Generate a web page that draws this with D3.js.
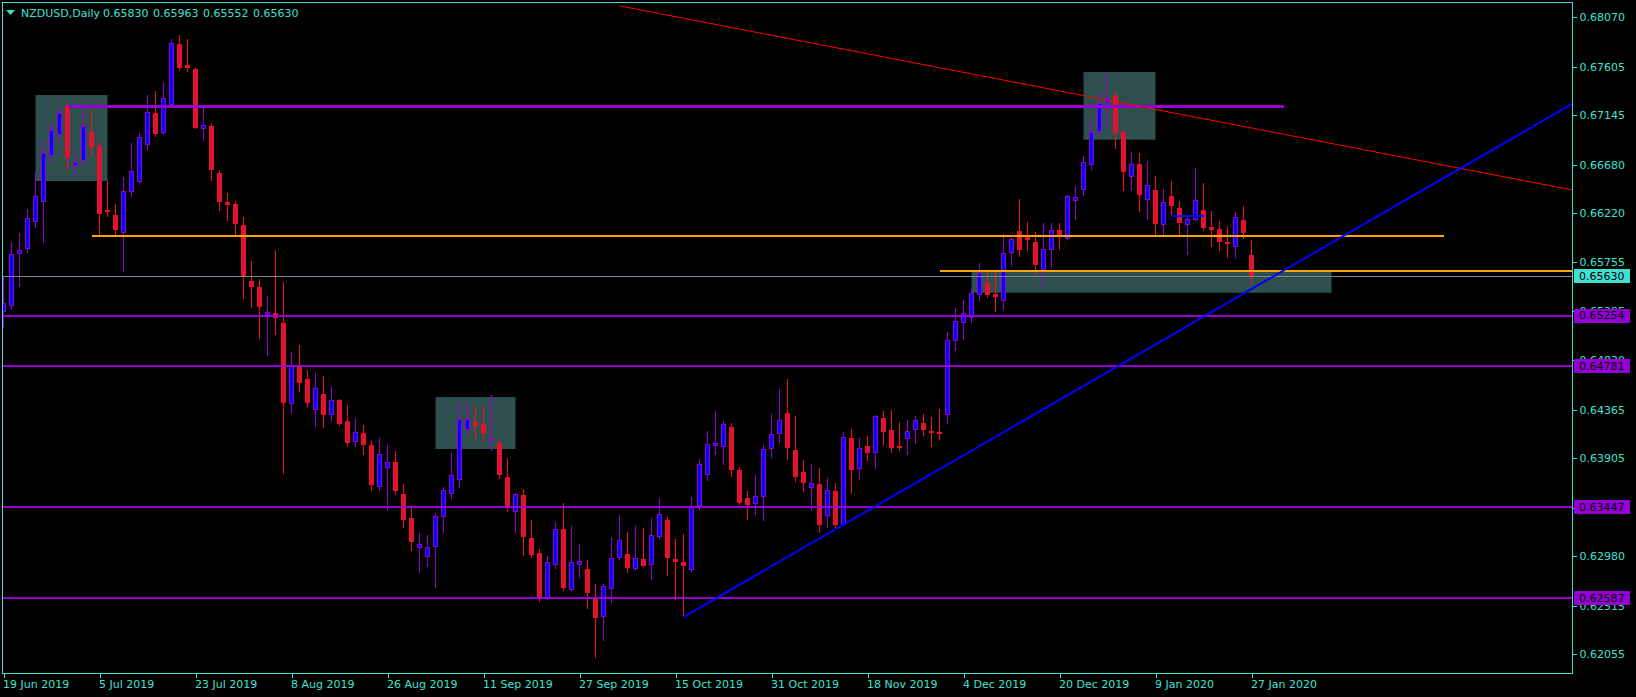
<!DOCTYPE html>
<html><head><meta charset="utf-8">
<script src="https://cdn.jsdelivr.net/npm/d3@7"></script>
<style>html,body{margin:0;padding:0;background:#000;overflow:hidden}</style>
</head><body><svg id="c" width="1636" height="697"></svg>
<script>
// ---------- data ----------
const symbol = "NZDUSD,Daily";
const lastOHLC = ["0.65830", "0.65963", "0.65552", "0.65630"];
const dateLabels = ["19 Jun 2019","5 Jul 2019","23 Jul 2019","8 Aug 2019","26 Aug 2019","11 Sep 2019","27 Sep 2019","15 Oct 2019","31 Oct 2019","18 Nov 2019","4 Dec 2019","20 Dec 2019","9 Jan 2020","27 Jan 2020"];
const dateIdx = [0,12,24,36,48,60,72,84,96,108,120,132,144,156];
const priceTicks = [0.68070,0.67605,0.67145,0.66680,0.66220,0.65755,0.65295,0.64830,0.64365,0.63905,0.63440,0.62980,0.62515,0.62055];

const open = [.65287,.65343,.65834,.65882,.66137,.66326,.66760,.66958,.67232,.66665,.66713,.66987,.66854,.66250,.66203,.66033,.66420,.66514,.66864,.67166,
.66977,.67241,.67817,.67619,.67581,.67015,.67043,.66599,.66326,.66307,.66108,.65580,.65523,.65258,.65277,.65183,.64418,.64786,.64654,.64361,
.64512,.64314,.64456,.64257,.64059,.64144,.64031,.63634,.63814,.63870,.63568,.63341,.63058,.62973,.63068,.63351,.63568,.63700,.64173,.64248,
.64229,.64087,.64050,.63729,.63398,.63559,.63153,.63011,.62577,.62898,.63238,.62662,.62898,.62860,.62577,.62407,.62671,.62964,.63002,.62860,
.62954,.62898,.63162,.63323,.62954,.62926,.62850,.63455,.63748,.64021,.64012,.64201,.63795,.63530,.63474,.63540,.63993,.64135,.64333,.63984,
.63776,.63625,.63663,.63360,.63596,.63275,.64097,.63804,.64021,.63955,.64286,.64173,.64021,.64087,.64173,.64239,.64163,.64154,.64314,.65013,
.65183,.65230,.65447,.65561,.65457,.65391,.65844,.66052,.65995,.65948,.65683,.65872,.66061,.65976,.66335,.66439,.66675,.66987,.67260,.67326,
.66987,.66562,.66684,.66344,.66439,.66108,.66382,.66269,.66108,.66156,.66250,.66089,.66071,.65948,.65901,.66156,.65830];
const high = [.65617,.65948,.66033,.66259,.66609,.66920,.67081,.67223,.67260,.66798,.67194,.67194,.66892,.66524,.66307,.66562,.66883,.66977,.67336,.67374,
.67459,.67865,.67902,.67865,.67591,.67223,.67072,.66628,.66410,.66335,.66184,.65768,.65598,.65438,.65872,.65570,.64909,.64975,.64739,.64711,
.64682,.64579,.64465,.64409,.64286,.64220,.64078,.64097,.64031,.63974,.63663,.63464,.63200,.63181,.63389,.63634,.63955,.64437,.64437,.64399,
.64390,.64503,.64078,.63908,.63578,.63615,.63323,.63049,.62983,.63304,.63483,.63266,.63096,.62945,.62718,.62718,.63162,.63370,.63209,.63266,
.63247,.63341,.63530,.63351,.63143,.63190,.63540,.63899,.64163,.64352,.64257,.64239,.63823,.63596,.63748,.64031,.64324,.64560,.64654,.64305,
.63889,.63851,.63814,.63719,.63672,.64154,.64182,.64097,.64116,.64314,.64352,.64361,.64248,.64267,.64305,.64324,.64295,.64371,.65098,.65325,
.65400,.65504,.65749,.65665,.65665,.66023,.65995,.66354,.66137,.66042,.66127,.66127,.66127,.66392,.66477,.66760,.67100,.67355,.67544,.67364,
.67005,.66798,.66788,.66713,.66571,.66448,.66524,.66335,.66184,.66647,.66505,.66241,.66146,.66099,.66231,.66288,.65963];
const low = [.65136,.65306,.65523,.65844,.66080,.65938,.66703,.66883,.66628,.66552,.66647,.66750,.66014,.66184,.66014,.65665,.66373,.66505,.66807,.66939,
.66958,.67232,.67563,.67553,.67015,.66901,.66524,.66241,.66146,.66014,.65410,.65325,.65032,.64871,.65070,.63757,.64324,.64531,.64380,.64201,
.64191,.64257,.64210,.64012,.64012,.63936,.63596,.63596,.63408,.63559,.63247,.63030,.62822,.62879,.62680,.63200,.63521,.63625,.64125,.64087,
.64059,.63974,.63710,.63398,.63200,.62983,.62964,.62548,.62567,.62860,.62652,.62652,.62775,.62482,.62020,.62180,.62539,.62945,.62822,.62841,
.62879,.62756,.63134,.62794,.62567,.62407,.62832,.63417,.63691,.63936,.63842,.63729,.63464,.63323,.63370,.63313,.63908,.64050,.63889,.63681,
.63587,.63408,.63200,.63247,.63247,.63266,.63568,.63700,.63880,.63804,.64021,.63955,.63974,.63936,.64040,.64116,.64012,.64078,.64229,.64918,
.65022,.65183,.65391,.65419,.65287,.65306,.65721,.65806,.65863,.65636,.65523,.65712,.65872,.65967,.66156,.66382,.66628,.66939,.67015,.66826,
.66429,.66429,.66231,.66156,.65995,.66014,.66203,.66014,.65825,.66146,.66052,.65901,.65863,.65797,.65797,.65976,.65552];
const close = [.65372,.65834,.65872,.66174,.66382,.66788,.67005,.67166,.66741,.66703,.67043,.66845,.66212,.66231,.66061,.66429,.66618,.66939,.67175,.66968,
.67308,.67827,.67591,.67591,.67024,.67053,.66628,.66326,.66297,.66118,.65617,.65523,.65334,.65287,.65230,.64427,.64786,.64616,.64427,.64569,
.64314,.64456,.64229,.64050,.64154,.64031,.63653,.63946,.63870,.63596,.63323,.63115,.63096,.63068,.63360,.63606,.63748,.64276,.64276,.64210,
.64144,.64097,.63748,.63445,.63568,.63162,.62992,.62577,.62926,.63238,.62680,.62926,.62935,.62633,.62397,.62699,.62964,.63134,.62869,.62964,
.62888,.63181,.63379,.62964,.62926,.62888,.63445,.63851,.64040,.64050,.64229,.63795,.63483,.63464,.63549,.63993,.64135,.64267,.64003,.63729,
.63672,.63672,.63275,.63606,.63275,.64106,.63795,.64003,.63955,.64305,.64154,.64003,.64012,.64163,.64267,.64173,.64144,.64144,.65022,.65202,
.65277,.65466,.65655,.65447,.65428,.65844,.65976,.65872,.65967,.65731,.65882,.66061,.66014,.66382,.66373,.66703,.66987,.67260,.67308,.66977,
.66609,.66684,.66392,.66486,.66118,.66326,.66288,.66127,.66165,.66344,.66080,.66061,.65948,.65929,.66184,.66033,.65630];

const levelPrices = [0.65254, 0.64781, 0.63447, 0.62587];
const bidPrice = 0.65630;
const resistance = {from: 8, to: 160, price: 0.67229};
const orangeLines = [{from: 11, to: 180, price: 0.66007}, {from: 117, to: 250, price: 0.65677}];
const redTrend = [[77, 0.68178], [162, 0.66937]];
const blueTrend = [[85, 0.62407], [162, 0.65766]];
const blueSeg = {from: 146, to: 150, price: 0.66196};
const boxes = [[4, 13, 0.67336, 0.66524], [54, 64, 0.64484, 0.63993], [135, 144, 0.67553, 0.66914], [121, 166, 0.65674, 0.65469]];

// ---------- styles ----------
const FG = "#40E0D0", BULL_EDGE = "#9400D3", BULL_FILL = "#0000FF", BEAR_EDGE = "#F0101E", BEAR_FILL = "#DC143C";
const FONT = "DejaVu Sans";
const L = 2, R = 1572, T = 2, B = 673;

const svg = d3.select("#c");
svg.append("rect").attr("width", 1636).attr("height", 697).attr("fill", "#000");

const x = d3.scaleLinear().domain([0, 1]).range([3.5, 11.5]);
const y = d3.scaleLinear().domain([0.618783, 0.682145]).range([B, T]);

svg.append("clipPath").attr("id", "clip").append("rect")
  .attr("x", L).attr("y", T).attr("width", R - L).attr("height", B - T);
const plot = svg.append("g").attr("clip-path", "url(#clip)");

// boxes
plot.selectAll("rect.box").data(boxes).join("rect").attr("class", "box")
  .attr("x", d => x(d[0])).attr("width", d => x(d[1]) - x(d[0]))
  .attr("y", d => y(d[2])).attr("height", d => y(d[3]) - y(d[2]))
  .attr("fill", "#2F4F4F");

// candles
const idx = d3.range(open.length);
const cg = plot.append("g").attr("shape-rendering", "crispEdges");
idx.forEach(i => {
  const o = open[i], c = close[i], bull = c >= o;
  const edge = bull ? BULL_EDGE : BEAR_EDGE, fill = bull ? BULL_FILL : BEAR_FILL;
  const cx = x(i);
  cg.append("line").attr("x1", cx).attr("x2", cx).attr("y1", y(high[i])).attr("y2", y(low[i]))
    .attr("stroke", edge).attr("stroke-width", 1);
  const top = Math.round(y(Math.max(o, c))), bot = Math.round(y(Math.min(o, c)));
  const h = bot - top;
  if (h < 1) {
    cg.append("rect").attr("x", cx - 2.5).attr("y", top).attr("width", 5).attr("height", 1).attr("fill", edge);
  } else {
    cg.append("rect").attr("x", cx - 2.5).attr("y", top).attr("width", 5).attr("height", Math.max(h, 2)).attr("fill", edge);
    if (h > 2) cg.append("rect").attr("x", cx - 1.5).attr("y", top + 1).attr("width", 3).attr("height", h - 2).attr("fill", fill);
  }
});

// horizontal lines
const lg = plot.append("g");
lg.selectAll("line.lvl").data(levelPrices).join("line").attr("class", "lvl")
  .attr("x1", L).attr("x2", R).attr("y1", d => Math.round(y(d))).attr("y2", d => Math.round(y(d)))
  .attr("stroke", "#9400D3").attr("stroke-width", 2).attr("shape-rendering", "crispEdges");
lg.append("line").attr("x1", L).attr("x2", R).attr("y1", Math.round(y(bidPrice)) + 0.5).attr("y2", Math.round(y(bidPrice)) + 0.5)
  .attr("stroke", "#778899").attr("stroke-width", 1).attr("shape-rendering", "crispEdges");
lg.selectAll("line.or").data(orangeLines).join("line").attr("class", "or")
  .attr("x1", d => x(d.from)).attr("x2", d => x(d.to)).attr("y1", d => Math.round(y(d.price))).attr("y2", d => Math.round(y(d.price)))
  .attr("stroke", "#FFA500").attr("stroke-width", 2).attr("shape-rendering", "crispEdges");
lg.append("line").attr("x1", x(resistance.from)).attr("x2", x(resistance.to))
  .attr("y1", Math.round(y(resistance.price)) + 0.5).attr("y2", Math.round(y(resistance.price)) + 0.5)
  .attr("stroke", "#9400D3").attr("stroke-width", 3).attr("shape-rendering", "crispEdges");
lg.append("line").attr("x1", x(blueSeg.from)).attr("x2", x(blueSeg.to))
  .attr("y1", Math.round(y(blueSeg.price))).attr("y2", Math.round(y(blueSeg.price)))
  .attr("stroke", "#0000FF").attr("stroke-width", 2).attr("shape-rendering", "crispEdges");

// trend lines (rays to the right)
function ray(pts, color, w) {
  const [a, b] = pts;
  const x1 = x(a[0]), y1 = y(a[1]), x2 = x(b[0]), y2 = y(b[1]);
  const k = (y2 - y1) / (x2 - x1);
  lg.append("line").attr("x1", x1).attr("y1", y1).attr("x2", R).attr("y2", y1 + k * (R - x1))
    .attr("stroke", color).attr("stroke-width", w);
}
ray(redTrend, "#FF0000", 1);
ray(blueTrend, "#0000FF", 2);

// frame
svg.append("rect").attr("x", L + 0.5).attr("y", T + 0.5).attr("width", R - L).attr("height", B - T)
  .attr("fill", "none").attr("stroke", FG).attr("stroke-width", 1).attr("shape-rendering", "crispEdges");

// right price axis
const ay = svg.append("g").attr("transform", `translate(${R + 0.5},0)`)
  .call(d3.axisRight(y).tickValues(priceTicks).tickSize(4).tickPadding(3).tickFormat(d => d.toFixed(5)));
ay.select(".domain").remove();
ay.selectAll("line").attr("stroke", FG).attr("shape-rendering", "crispEdges");
ay.selectAll("text").attr("fill", FG).attr("font-family", FONT).attr("font-size", 11);

// bottom date axis
const ax = svg.append("g").attr("transform", `translate(0,${B + 0.5})`)
  .call(d3.axisBottom(x).tickValues(dateIdx).tickSize(4).tickPadding(3).tickFormat((d, i) => dateLabels[i]));
ax.select(".domain").remove();
ax.selectAll("line").attr("stroke", FG).attr("shape-rendering", "crispEdges");
ax.selectAll("text").attr("fill", FG).attr("font-family", FONT).attr("font-size", 11)
  .attr("text-anchor", "start").attr("x", -1);

// price tags
const tags = [{p: bidPrice, bg: "#40E0D0"}].concat(levelPrices.map(p => ({p, bg: "#9400D3"})));
const tg = svg.append("g");
tags.forEach(t => {
  const cy = y(t.p);
  tg.append("rect").attr("x", R + 2).attr("y", Math.round(cy) - 7).attr("width", 56).attr("height", 14).attr("fill", t.bg);
  tg.append("text").attr("x", R + 7).attr("y", cy).attr("dy", "0.36em").text(t.p.toFixed(5))
    .attr("fill", "#000").attr("font-family", FONT).attr("font-size", 11);
});

// title
svg.append("path").attr("d", "M6,10 L15,10 L10.5,15 Z").attr("fill", FG);
const titleParts = [symbol].concat(lastOHLC);
const titleX = [21, 103, 153, 203, 253];
svg.selectAll("text.title").data(titleParts).join("text").attr("class", "title")
  .attr("x", (d, i) => titleX[i]).attr("y", 17).text(d => d)
  .attr("fill", FG).attr("font-family", FONT).attr("font-size", 11);
</script></body></html>
